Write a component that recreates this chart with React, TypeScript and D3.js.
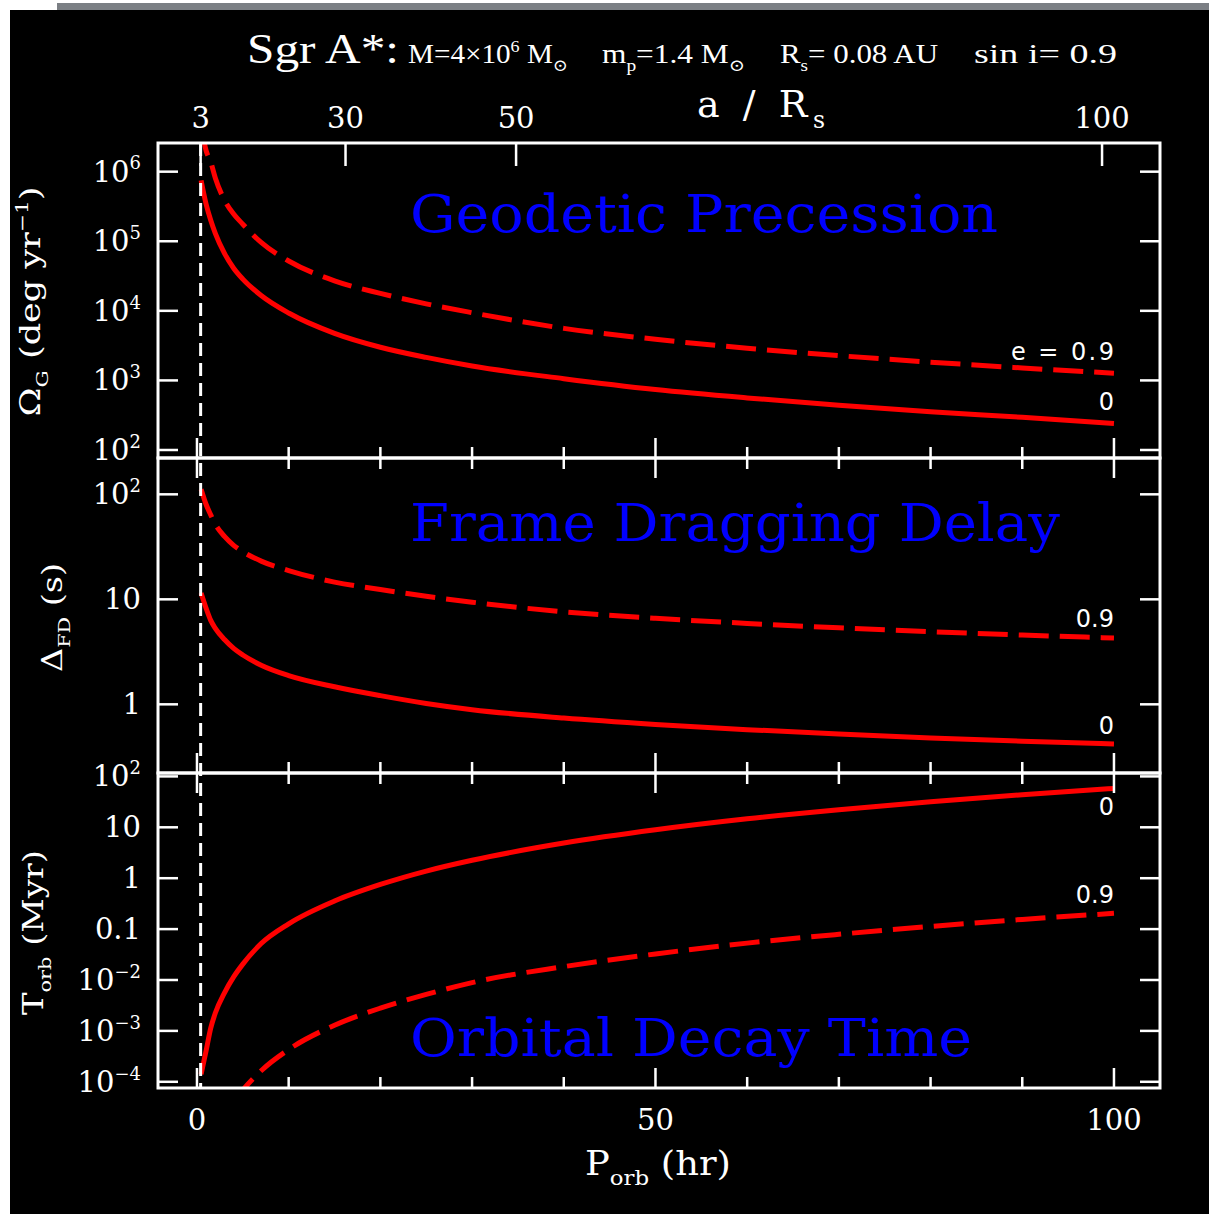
import React, { useEffect, useRef } from 'react';
import * as d3 from 'd3';

const periodHr = [0.45, 1, 1.5, 2, 3, 4, 5, 7, 10, 15, 20, 25, 30, 40, 50, 60, 70, 80, 90, 100];
const periodHrDecayEcc = [4, 5, 7, 10, 15, 20, 25, 30, 40, 50, 60, 70, 80, 90, 100];

// geodetic precession, deg / yr
const geodeticE0 = [7.5e5, 3.4e5, 2.0e5, 1.3e5, 6.7e4, 4.1e4, 2.86e4, 1.66e4, 9.3e3, 4.75e3, 3.0e3, 2.14e3, 1.61e3, 1.06e3, 740, 560, 440, 355, 295, 240];
const geodeticE09 = [4.5e6, 2.0e6, 1.38e6, 8.1e5, 3.9e5, 2.46e5, 1.76e5, 9.6e4, 5.2e4, 2.7e4, 1.78e4, 1.26e4, 9.4e3, 5.6e3, 3.9e3, 2.9e3, 2.27e3, 1.83e3, 1.51e3, 1.27e3];

// frame dragging delay, s
const dragE0 = [11.5, 8.2, 6.3, 5.3, 4.14, 3.41, 2.95, 2.36, 1.88, 1.47, 1.21, 1.02, 0.89, 0.74, 0.644, 0.574, 0.521, 0.479, 0.445, 0.42];
const dragE09 = [112, 80, 63.7, 52, 39.7, 32.7, 28.4, 23.1, 18.8, 14.6, 12.4, 10.7, 9.4, 7.6, 6.6, 5.9, 5.35, 4.92, 4.57, 4.28];

// orbital decay time, Myr
const decayE0 = [1.4e-4, 4.1e-4, 1.13e-3, 2.24e-3, 5.6e-3, 1.15e-2, 2.05e-2, 5.2e-2, 0.127, 0.356, 0.753, 1.38, 2.25, 4.9, 8.95, 14.7, 22.2, 31.9, 43.8, 58];
const decayE09 = [4e-5, 6.9e-5, 1.65e-4, 4.3e-4, 1.29e-3, 2.8e-3, 5.2e-3, 8.9e-3, 1.83e-2, 3.25e-2, 5.3e-2, 7.9e-2, 0.113, 0.155, 0.204];

// axes
const periodTicks = [0, 10, 20, 30, 40, 50, 60, 70, 80, 90, 100];
const periodLabels = [0, 50, 100];
const radiusLabels = ['3', '30', '50', '100'];
const radiusTickPeriod = [0.4, 16.2, 34.8, 98.7];
const iscoPeriodHr = 0.4;

const geodeticTicks = [1e2, 1e3, 1e4, 1e5, 1e6];
const geodeticTickLabels = ['10^2', '10^3', '10^4', '10^5', '10^6'];
const dragTicks = [1, 10, 100];
const dragTickLabels = ['1', '10', '10^2'];
const decayTicks = [1e-4, 1e-3, 1e-2, 0.1, 1, 10, 100];
const decayTickLabels = ['10^−4', '10^−3', '10^−2', '0.1', '1', '10', '10^2'];

const SERIF = '"DejaVu Serif", "Liberation Serif", serif';
const TITLE_SERIF = '"Liberation Serif", "DejaVu Serif", serif';
const SANS = '"DejaVu Sans", "Liberation Sans", sans-serif';

type Part = [string, '' | 'sup' | 'sub'];

// write text pieces with super/subscripts into a <text>
function appendParts(text: any, parts: Part[], size: number) {
  let shift = 0;
  parts.forEach(([t, kind]) => {
    const target = kind === 'sup' ? -size * 0.42 : kind === 'sub' ? size * 0.3 : 0;
    text
      .append('tspan')
      .attr('dy', target - shift)
      .attr('font-size', kind ? size * 0.62 : size)
      .text(t);
    shift = target;
  });
}

function tickParts(label: string): Part[] {
  if (label.includes('^')) {
    const [b, e] = label.split('^');
    return [[b, ''], [e, 'sup']];
  }
  return [[label, '']];
}

function App() {
  const svgRef = useRef<SVGSVGElement>(null);

  useEffect(() => {
    const svg = d3.select(svgRef.current);
    svg.selectAll('*').remove();

    const frameLeft = 158;
    const frameRight = 1160;
    const x = d3.scaleLinear().domain([-4.25, 105.02]).range([frameLeft, frameRight]);

    svg.append('rect').attr('width', 1209).attr('height', 1214).attr('fill', '#ffffff');
    svg.append('rect').attr('x', 57).attr('y', 3).attr('width', 1152).attr('height', 7).attr('fill', '#7b7f84');
    svg.append('rect').attr('x', 10).attr('y', 10).attr('width', 1199).attr('height', 1204).attr('fill', '#000');

    const panels = [
      {
        top: 143, bottom: 458, domain: [10 ** 1.885, 10 ** 6.412],
        ticks: geodeticTicks, tickLabels: geodeticTickLabels,
        title: 'Geodetic Precession', titleY: 232, titleLen: 588,
        series: [
          { p: periodHr, v: geodeticE0, dashed: false },
          { p: periodHr, v: geodeticE09, dashed: true },
        ],
        notes: [
          { text: 'e = 0.9', s: 1, dy: -13, len: 103 },
          { text: '0', s: 0, dy: -14, len: 0 },
        ],
        yLabel: [['Ω', ''], ['G', 'sub'], [' (deg yr', ''], ['−1', 'sup'], [')', '']] as Part[],
        yLabelX: 40, yLabelLen: 230, yLabelShift: 1,
      },
      {
        top: 458, bottom: 773, domain: [10 ** -0.654, 10 ** 2.346],
        ticks: dragTicks, tickLabels: dragTickLabels,
        title: 'Frame Dragging Delay', titleY: 541, titleLen: 650,
        series: [
          { p: periodHr, v: dragE0, dashed: false },
          { p: periodHr, v: dragE09, dashed: true },
        ],
        notes: [
          { text: '0.9', s: 1, dy: -11, len: 0 },
          { text: '0', s: 0, dy: -10, len: 0 },
        ],
        yLabel: [['Δ', ''], ['FD', 'sub'], [' (s)', '']] as Part[],
        yLabelX: 62, yLabelLen: 109, yLabelShift: 2,
      },
      {
        top: 773, bottom: 1088, domain: [10 ** -4.122, 10 ** 2.067],
        ticks: decayTicks, tickLabels: decayTickLabels,
        title: 'Orbital Decay Time', titleY: 1056, titleLen: 562,
        series: [
          { p: periodHr, v: decayE0, dashed: false },
          { p: periodHrDecayEcc, v: decayE09, dashed: true },
        ],
        notes: [
          { text: '0', s: 0, dy: 27, len: 0 },
          { text: '0.9', s: 1, dy: -10, len: 0 },
        ],
        yLabel: [['T', ''], ['orb', 'sub'], [' (Myr)', '']] as Part[],
        yLabelX: 43, yLabelLen: 165, yLabelShift: 2,
      },
    ];

    panels.forEach((panel, i) => {
      const y = d3.scaleLog().domain(panel.domain).range([panel.bottom, panel.top]);
      const clipId = 'panel-clip-' + i;
      svg
        .append('clipPath')
        .attr('id', clipId)
        .append('rect')
        .attr('x', frameLeft)
        .attr('y', panel.top)
        .attr('width', frameRight - frameLeft)
        .attr('height', panel.bottom - panel.top);

      // blue panel title
      svg
        .append('text')
        .attr('x', 410)
        .attr('y', panel.titleY)
        .attr('fill', '#0000ff')
        .attr('font-family', SERIF)
        .attr('font-size', 52)
        .attr('textLength', panel.titleLen)
        .attr('lengthAdjust', 'spacingAndGlyphs')
        .text(panel.title);

      const line = d3
        .line<[number, number]>()
        .x((d) => x(d[0]))
        .y((d) => y(d[1]))
        .curve(d3.curveMonotoneX);

      panel.series.forEach((s) => {
        svg
          .append('path')
          .datum(d3.zip(s.p, s.v) as [number, number][])
          .attr('clip-path', `url(#${clipId})`)
          .attr('d', line)
          .attr('fill', 'none')
          .attr('stroke', '#ff0000')
          .attr('stroke-width', 5)
          .attr('stroke-dasharray', s.dashed ? '30 11' : null);
      });

      // e labels at the curve ends
      panel.notes.forEach((n) => {
        const s = panel.series[n.s];
        const t = svg
          .append('text')
          .attr('x', x(100))
          .attr('y', y(s.v[s.v.length - 1]) + n.dy)
          .attr('text-anchor', 'end')
          .attr('fill', '#fff')
          .attr('font-family', SANS)
          .attr('font-size', 24)
          .text(n.text);
        if (n.len) t.attr('textLength', n.len).attr('lengthAdjust', 'spacing');
      });

      // y ticks, both sides
      panel.ticks.forEach((v, k) => {
        const ty = y(v);
        svg.append('line').attr('x1', frameLeft).attr('x2', frameLeft + 20).attr('y1', ty).attr('y2', ty)
          .attr('stroke', '#fff').attr('stroke-width', 2.5);
        svg.append('line').attr('x1', frameRight - 20).attr('x2', frameRight).attr('y1', ty).attr('y2', ty)
          .attr('stroke', '#fff').attr('stroke-width', 2.5);
        const t = svg
          .append('text')
          .attr('x', 141)
          .attr('y', ty + 10)
          .attr('text-anchor', 'end')
          .attr('fill', '#fff')
          .attr('font-family', SERIF)
          .attr('font-size', 29);
        appendParts(t, tickParts(panel.tickLabels[k]), 29);
      });

      // P ticks on bottom edge (up) and top edge (down)
      periodTicks.forEach((p) => {
        const len = periodLabels.includes(p) ? 20 : 11;
        svg.append('line').attr('x1', x(p)).attr('x2', x(p)).attr('y1', panel.bottom).attr('y2', panel.bottom - len)
          .attr('stroke', '#fff').attr('stroke-width', 2.5);
        if (i > 0) {
          svg.append('line').attr('x1', x(p)).attr('x2', x(p)).attr('y1', panel.top).attr('y2', panel.top + len)
            .attr('stroke', '#fff').attr('stroke-width', 2.5);
        }
      });

      // rotated y label
      const yl = svg
        .append('text')
        .attr('transform', `translate(${panel.yLabelX},${(panel.top + panel.bottom) / 2 + panel.yLabelShift}) rotate(-90)`)
        .attr('text-anchor', 'middle')
        .attr('fill', '#fff')
        .attr('font-family', SERIF)
        .attr('font-size', 28)
        .attr('textLength', panel.yLabelLen)
        .attr('lengthAdjust', 'spacingAndGlyphs');
      appendParts(yl, panel.yLabel, 28);

      // panel box
      svg.append('rect').attr('x', frameLeft).attr('y', panel.top).attr('width', frameRight - frameLeft)
        .attr('height', panel.bottom - panel.top).attr('fill', 'none').attr('stroke', '#fff').attr('stroke-width', 3);
    });

    // last stable orbit marker
    svg.append('line').attr('x1', x(iscoPeriodHr)).attr('x2', x(iscoPeriodHr)).attr('y1', 143).attr('y2', 1088)
      .attr('stroke', '#fff').attr('stroke-width', 3).attr('stroke-dasharray', '13 7');

    // top axis: a / Rs
    radiusTickPeriod.forEach((p, k) => {
      svg.append('line').attr('x1', x(p)).attr('x2', x(p)).attr('y1', 143).attr('y2', 166)
        .attr('stroke', '#fff').attr('stroke-width', 2.5);
      svg.append('text').attr('x', x(p)).attr('y', 128).attr('text-anchor', 'middle').attr('fill', '#fff')
        .attr('font-family', SERIF).attr('font-size', 29).text(radiusLabels[k]);
    });
    const aLabel = svg.append('text').attr('x', 697).attr('y', 117).attr('fill', '#fff')
      .attr('font-family', SERIF).attr('font-size', 38).attr('textLength', 128).attr('lengthAdjust', 'spacing');
    appendParts(aLabel, [['a / R', ''], ['s', 'sub']], 38);

    // bottom axis labels
    periodLabels.forEach((p) => {
      svg.append('text').attr('x', x(p)).attr('y', 1130).attr('text-anchor', 'middle').attr('fill', '#fff')
        .attr('font-family', SERIF).attr('font-size', 29).text(String(p));
    });
    const pLabel = svg.append('text').attr('x', 585).attr('y', 1175).attr('fill', '#fff')
      .attr('font-family', SERIF).attr('font-size', 34).attr('textLength', 146).attr('lengthAdjust', 'spacingAndGlyphs');
    appendParts(pLabel, [['P', ''], ['orb', 'sub'], [' (hr)', '']], 34);

    // title line
    const titleParts: { x: number; len: number; size: number; parts: Part[] }[] = [
      { x: 247, len: 152, size: 42, parts: [['Sgr A*:', '']] },
      { x: 408, len: 160, size: 27, parts: [['M=4×10', ''], ['6', 'sup'], [' M', ''], ['⊙', 'sub']] },
      { x: 602, len: 143, size: 27, parts: [['m', ''], ['p', 'sub'], ['=1.4 M', ''], ['⊙', 'sub']] },
      { x: 780, len: 158, size: 27, parts: [['R', ''], ['s', 'sub'], ['= 0.08 AU', '']] },
      { x: 974, len: 143, size: 27, parts: [['sin i= 0.9', '']] },
    ];
    titleParts.forEach((tp) => {
      const t = svg.append('text').attr('x', tp.x).attr('y', 63).attr('fill', '#fff')
        .attr('font-family', TITLE_SERIF).attr('font-size', tp.size)
        .attr('textLength', tp.len).attr('lengthAdjust', 'spacingAndGlyphs');
      appendParts(t, tp.parts, tp.size);
    });
  }, []);

  return (
    <svg
      ref={svgRef}
      width={1209}
      height={1214}
      style={{ position: 'absolute', left: 0, top: 0, display: 'block' }}
    ></svg>
  );
}

export default App;
